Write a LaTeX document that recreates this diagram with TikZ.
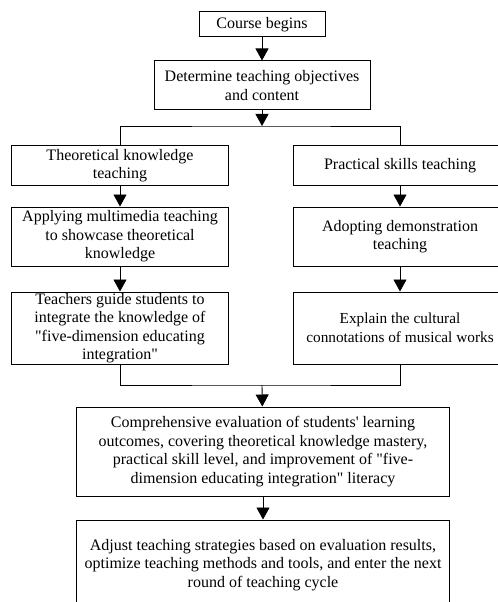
\documentclass[tikz,border=0pt]{standalone}
\usepackage{fontspec}
\setmainfont{Liberation Serif}[Ligatures=TeXOff]
\usetikzlibrary{arrows.meta,positioning}

\begin{document}
\begin{tikzpicture}[x=1bp, y=-1bp,
    font=\fontsize{16bp}{18.5bp}\selectfont,
    box/.style={draw, line width=1bp, align=center, inner sep=0pt, minimum width=216bp},
    flow/.style={line width=0.9bp, -{Triangle[length=12bp, width=13bp]}},
    link/.style={line width=0.9bp}]
    \useasboundingbox (0,0) rectangle (498,602);
    \clip (0,0) rectangle (498,602);

    % Start of the course
    \node[box, minimum width=126bp, minimum height=25bp] (start) at (262,24.5) {Course begins};
    \node[box, minimum height=49bp] (goal) at (262,85.5) {Determine teaching objectives\\and content};

    % Theory branch
    \node[box, minimum height=39bp] (theory) at (120,165.5) {Theoretical knowledge\\teaching};
    \node[box, minimum height=59bp] (media) at (120,236.5) {Applying multimedia teaching\\to showcase theoretical\\knowledge};
    \node[box, minimum height=72bp] (guide) at (120,328) {Teachers guide students to\\integrate the knowledge of\\"five-dimension educating\\integration"};

    % Practice branch
    \node[box, minimum width=214bp, minimum height=39bp] (skills) at (400,165.5) {Practical skills teaching};
    \node[box, minimum width=214bp, minimum height=59bp] (demo) at (400,236.5) {Adopting demonstration\\teaching};
    \node[box, minimum width=214bp, minimum height=72bp, font=\fontsize{15.3bp}{18.5bp}\selectfont] (culture) at (400,328) {Explain the cultural\\connotations of musical works};

    % Evaluation and adjustment
    \node[box, minimum width=372bp, minimum height=89bp] (evaluate) at (263,451.5) {Comprehensive evaluation of students' learning\\outcomes, covering theoretical knowledge mastery,\\practical skill level, and improvement of "five-\\dimension educating integration" literacy};
    \node[box, minimum width=372bp, minimum height=90bp] (adjust) at (263,565) {Adjust teaching strategies based on evaluation results,\\optimize teaching methods and tools, and enter the next\\round of teaching cycle};

    % Split and merge points
    \coordinate (split) at (262,126);
    \coordinate (merge) at (262,385);

    % Connectors
    \draw[flow] (start) -- (goal);
    \draw[flow] (goal) -- (split);
    \draw[link] (theory.north) |- (split) -| (skills.north);
    \draw[flow] (theory) -- (media);
    \draw[flow] (media) -- (guide);
    \draw[flow] (skills) -- (demo);
    \draw[flow] (demo) -- (culture);
    \draw[link] (guide.south) |- (merge) -| (culture.south);
    \draw[flow] (merge) -- (evaluate);
    \draw[flow] (evaluate) -- (adjust);
\end{tikzpicture}
\end{document}
